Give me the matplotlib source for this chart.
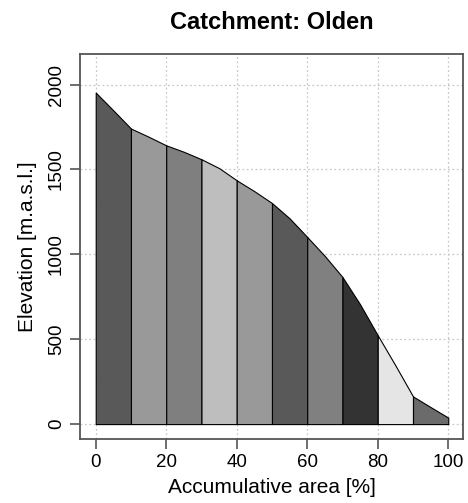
import matplotlib
matplotlib.use("Agg")
import matplotlib.pyplot as plt
import numpy as np

# Hypsometric curve for the Olden catchment
area_pct = [0, 5, 10, 15, 20, 25, 30, 35, 40, 45, 50,
            55, 60, 65, 70, 75, 80, 85, 90, 95, 100]
elevation = [1953, 1848, 1741, 1693, 1642, 1604, 1560, 1508, 1436, 1372, 1302,
             1212, 1102, 990, 866, 705, 523, 346, 163, 100, 38]

# 10 % elevation bands and their grey fills
band_edges = [0, 10, 20, 30, 40, 50, 60, 70, 80, 90, 100]
band_colors = ['#595959', '#999999', '#7f7f7f', '#bebebe', '#999999',
               '#595959', '#808080', '#333333', '#e5e5e5', '#6b6b6b']

x_ticks = [0, 20, 40, 60, 80, 100]
y_ticks = [0, 500, 1000, 1500, 2000]

plt.rcParams['font.family'] = ['Liberation Sans', 'DejaVu Sans']

fig = plt.figure(figsize=(4.68, 5.03), dpi=100)
ax = fig.add_axes([0.1716, 0.1272, 0.8171, 0.7654])

x = np.array(area_pct, dtype=float)
y = np.array(elevation, dtype=float)

for i, col in enumerate(band_colors):
    lo, hi = band_edges[i], band_edges[i + 1]
    mask = (x >= lo) & (x <= hi)
    ax.fill_between(x[mask], 0, y[mask], facecolor=col, edgecolor='black',
                    linewidth=0.8, zorder=2)

ax.set_xlim(-4.37, 104.1)
ax.set_ylim(-88, 2180)
ax.set_xticks(x_ticks)
ax.set_yticks(y_ticks)
ax.grid(True, color='#c8c8c8', linestyle=(0, (1.5, 2)), linewidth=0.9, zorder=0)
ax.set_axisbelow(True)

for s in ax.spines.values():
    s.set_color('#555555')
    s.set_linewidth(1.3)
ax.tick_params(axis='both', direction='out', length=7, width=1.2,
               color='#555555', labelsize=13.5, pad=4)
plt.setp(ax.get_yticklabels(), rotation=90, va='center')

ax.set_xlabel('Accumulative area [%]', fontsize=15, labelpad=5)
ax.set_ylabel('Elevation [m.a.s.l.]', fontsize=15, labelpad=8)
ax.set_title('Catchment: Olden', fontsize=17, fontweight='bold', pad=18)

fig.savefig('out.png', dpi=100)
